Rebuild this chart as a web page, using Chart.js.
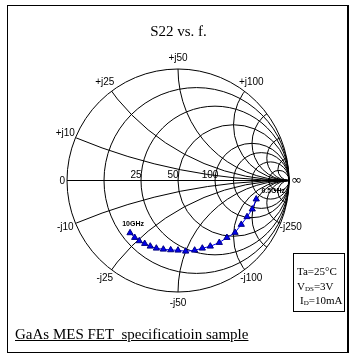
<!DOCTYPE html>
<html><head><meta charset="utf-8">
<script src="https://cdn.jsdelivr.net/npm/chart.js@4"></script>
<style>
html,body{margin:0;padding:0;background:#fff;}
#wrap{position:relative;width:357px;height:359px;overflow:hidden;background:#fff;}
#c{position:absolute;left:0;top:0;}
.frame{position:absolute;left:7px;top:5px;width:342px;height:348px;border:1px solid #000;border-right-width:2px;box-sizing:border-box;}
.title{position:absolute;left:0;width:357px;top:23px;text-align:center;font:15px "Liberation Serif",serif;line-height:16px;}
.cond{position:absolute;left:293px;top:253px;width:52px;height:59px;border:1px solid #000;box-sizing:border-box;font:11px "Liberation Serif",serif;}
.cond div{position:absolute;white-space:nowrap;line-height:12px;}
.cond sub{font-size:7px;vertical-align:baseline;position:relative;top:1px;}
.foot{position:absolute;left:15px;top:326px;font:15px "Liberation Serif",serif;line-height:17px;text-decoration:underline;white-space:pre;}
</style></head>
<body>
<div id="wrap">
<canvas id="c" width="357" height="359"></canvas>
<div class="frame"></div>
<div class="title">S22 vs. f.</div>
<div class="cond">
 <div style="left:3px;top:11px">Ta=25°C</div>
 <div style="left:3px;top:26px">V<sub>DS</sub>=3V</div>
 <div style="left:6px;top:40px">I<sub>D</sub>=10mA</div>
</div>
<div class="foot">GaAs MES FET  specificatioin sample</div>
</div>
<script>
// S22 reflection coefficient, 0.5 GHz .. 10 GHz (step 0.5 GHz)
const freqGHz = [0.5,1,1.5,2,2.5,3,3.5,4,4.5,5,5.5,6,6.5,7,7.5,8,8.5,9,9.5,10];
const s22Re = [0.705,0.669,0.622,0.570,0.514,0.441,0.372,0.291,0.219,0.150,0.069,0.000,-0.066,-0.132,-0.195,-0.250,-0.300,-0.349,-0.390,-0.432];
const s22Im = [-0.167,-0.257,-0.326,-0.395,-0.467,-0.512,-0.557,-0.590,-0.608,-0.626,-0.635,-0.626,-0.623,-0.617,-0.608,-0.590,-0.566,-0.542,-0.512,-0.470];
const pointLabels = ['0.5GHz','10GHz'];

// Smith chart grid (normalized to 50 ohm)
const resistanceGrid = [0.2,0.5,1,2,3,5,10];
const reactanceGrid = [0.2,0.5,1,2,3,5,10];
const reactanceTickValues = [0.2,0.5,1,2,-0.2,-0.5,-1,-2,-5];
const reactanceTickLabels = ['+j10','+j25','+j50','+j100','-j10','-j25','-j50','-j100','-j250'];
const resistanceTickValues = [0.5,1,2];
const resistanceTickLabels = ['25','50','100'];

const smithPlugin = {
  id:'smith',
  beforeDatasetsDraw(chart){
    const {ctx, scales:{x, y}} = chart;
    const cx = x.getPixelForValue(0), cy = y.getPixelForValue(0);
    const sx = x.getPixelForValue(1) - cx, sy = cy - y.getPixelForValue(1);
    ctx.save();
    ctx.strokeStyle = '#000'; ctx.lineWidth = 1;
    ctx.beginPath(); ctx.ellipse(cx, cy, sx, sy, 0, 0, 2*Math.PI); ctx.stroke();
    ctx.beginPath(); ctx.moveTo(cx - sx, cy); ctx.lineTo(cx + sx, cy); ctx.stroke();
    resistanceGrid.forEach(r => {
      const c = r/(1+r), rad = 1/(1+r);
      ctx.beginPath(); ctx.ellipse(x.getPixelForValue(c), cy, rad*sx, rad*sy, 0, 0, 2*Math.PI); ctx.stroke();
    });
    ctx.save();
    ctx.beginPath(); ctx.ellipse(cx, cy, sx, sy, 0, 0, 2*Math.PI); ctx.clip();
    reactanceGrid.forEach(xv => {
      [1,-1].forEach(s => {
        const rad = 1/xv;
        ctx.beginPath();
        ctx.ellipse(x.getPixelForValue(1), y.getPixelForValue(s*rad), rad*sx, rad*sy, 0, 0, 2*Math.PI);
        ctx.stroke();
      });
    });
    ctx.restore();
    // labels
    ctx.fillStyle = '#000';
    ctx.font = '10px "Liberation Sans", Arial, sans-serif';
    ctx.textAlign = 'center'; ctx.textBaseline = 'middle';
    reactanceTickValues.forEach((xv, i) => {
      const u = (xv*xv - 1)/(xv*xv + 1), v = 2*xv/(xv*xv + 1);
      ctx.fillText(reactanceTickLabels[i], x.getPixelForValue(u*1.1), y.getPixelForValue(v*1.1));
    });
    ctx.textBaseline = 'alphabetic';
    resistanceTickValues.forEach((r, i) => {
      const u = (r - 1)/(r + 1);
      ctx.fillText(resistanceTickLabels[i], x.getPixelForValue(u) - 5, cy - 3);
    });
    ctx.textBaseline = 'middle';
    ctx.textAlign = 'right';
    ctx.fillText('0', x.getPixelForValue(-1) - 2, cy + 1);
    ctx.textAlign = 'left';
    ctx.font = '13px "DejaVu Sans", sans-serif';
    ctx.fillText('∞', x.getPixelForValue(1) + 2, cy);
    ctx.restore();
  },
  afterDatasetsDraw(chart){
    const {ctx} = chart;
    const meta = chart.getDatasetMeta(0);
    const first = meta.data[0], last = meta.data[meta.data.length - 1];
    ctx.save();
    ctx.fillStyle = '#000';
    ctx.font = 'bold 7px "Liberation Sans", Arial, sans-serif';
    ctx.textAlign = 'center'; ctx.textBaseline = 'middle';
    ctx.fillText(pointLabels[0], first.x + 17, first.y - 8);
    ctx.fillText(pointLabels[1], last.x + 3, last.y - 9);
    ctx.restore();
  }
};

new Chart(document.getElementById('c'), {
  type: 'scatter',
  data: {
    datasets: [{
      label: 'S22',
      data: s22Re.map((u, i) => ({x: u, y: s22Im[i]})),
      showLine: true,
      borderColor: '#0000ff',
      borderWidth: 1,
      pointStyle: 'triangle',
      pointRadius: 3.6,
      pointBackgroundColor: '#0000ee',
      pointBorderColor: '#000080',
      pointBorderWidth: 1,
      clip: false
    }]
  },
  options: {
    responsive: false,
    animation: false,
    layout: {padding: {left: 67, right: 68, top: 69, bottom: 67}},
    scales: {
      x: {type: 'linear', min: -1, max: 1, display: false},
      y: {type: 'linear', min: -1, max: 1, display: false}
    },
    plugins: {legend: {display: false}, tooltip: {enabled: false}, title: {display: false}}
  },
  plugins: [smithPlugin]
});
</script>
</body></html>
